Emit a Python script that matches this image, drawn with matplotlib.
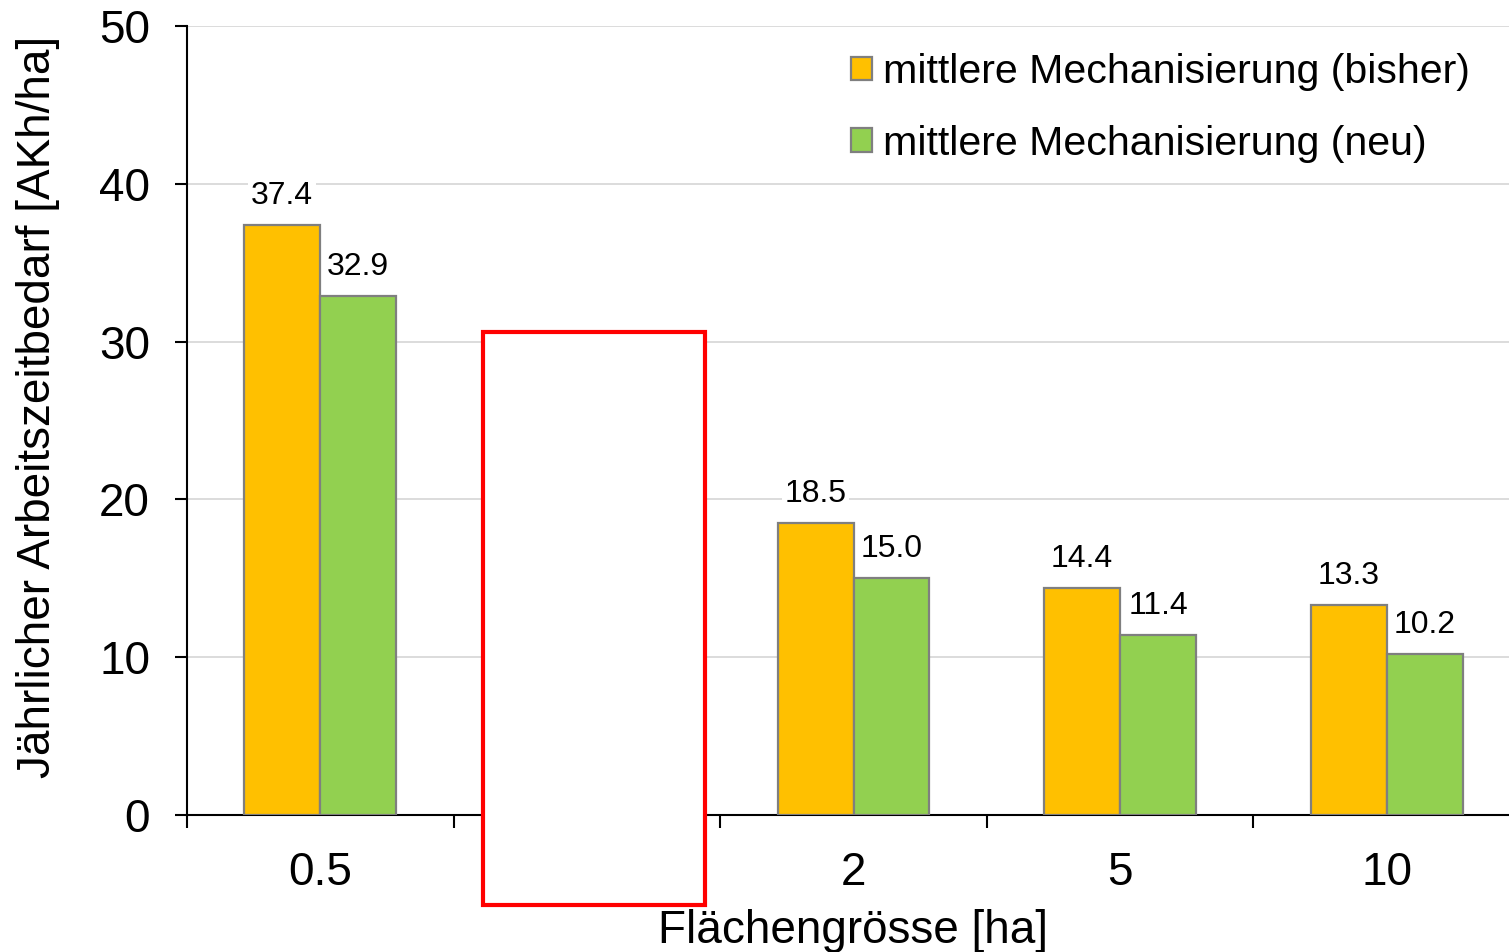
import numpy as np
import matplotlib.pyplot as plt
from matplotlib.patches import Rectangle

plt.rcParams['font.family'] = ['Liberation Sans', 'DejaVu Sans']

# Flächengrössen und Arbeitszeitbedarf (AKh/ha); zweite Kategorie ohne Werte
kategorien = ['0.5', '', '2', '5', '10']
bisher = [37.4, np.nan, 18.5, 14.4, 13.3]
neu = [32.9, np.nan, 15.0, 11.4, 10.2]

fig = plt.figure(figsize=(15.09, 9.52), dpi=100)
ax = fig.add_axes([187 / 1509, 1 - 815 / 952, (1520 - 187) / 1509, (815 - 26) / 952])

x = np.arange(len(kategorien))
b = 0.285
bars1 = ax.bar(x - b / 2, bisher, b, color='#FFC000', edgecolor='#7F7F7F', linewidth=1.6,
               label='mittlere Mechanisierung (bisher)', zorder=3)
bars2 = ax.bar(x + b / 2, neu, b, color='#92D050', edgecolor='#7F7F7F', linewidth=1.6,
               label='mittlere Mechanisierung (neu)', zorder=3)

# Werte über den Balken
for bars in (bars1, bars2):
    for r in bars:
        h = r.get_height()
        if np.isnan(h):
            continue
        ax.text(r.get_x() + r.get_width() / 2, h + 0.9, f'{h:.1f}', ha='center', va='bottom',
                fontsize=23, zorder=4,
                bbox=dict(facecolor='white', edgecolor='none', pad=2))

ax.set_xlim(-0.5, len(kategorien) - 0.5)
ax.set_ylim(0, 50)
ax.set_yticks(range(0, 51, 10))
ax.set_xticks(x)
ax.set_xticklabels(kategorien)
ax.set_xticks(np.arange(-0.5, len(kategorien), 1), minor=True)
ax.tick_params(axis='x', which='major', length=0, labelsize=33, pad=26)
ax.tick_params(axis='x', which='minor', length=9.5, width=1.5, direction='out')
ax.tick_params(axis='y', length=8.6, width=1.5, labelsize=33, pad=18)

ax.grid(axis='y', color='#D9D9D9', linewidth=1.3, zorder=0)
ax.set_axisbelow(True)
for s in ('top', 'right'):
    ax.spines[s].set_visible(False)
ax.spines['left'].set_linewidth(1.5)
ax.spines['bottom'].set_linewidth(1.5)

ax.set_ylabel('Jährlicher Arbeitszeitbedarf [AKh/ha]', fontsize=33)
ax.yaxis.set_label_coords(-0.095, 0.517)
ax.set_xlabel('Flächengrösse [ha]', fontsize=33, labelpad=10)

ax.legend(loc='upper left', bbox_to_anchor=(851 / 1509, 1 - 53 / 952),
          bbox_transform=fig.transFigure, frameon=False, fontsize=29.6,
          borderaxespad=0, borderpad=0,
          handlelength=0.5, handleheight=0.5, handletextpad=0.28, labelspacing=0.82)

# Markierung der ausgeblendeten Kategorie
ax.add_patch(Rectangle((0.61, -5.7), 0.832, 36.3, facecolor='white', edgecolor='#FF0000',
                       linewidth=3, clip_on=False, zorder=5))

fig.savefig('out.png', dpi=100)
